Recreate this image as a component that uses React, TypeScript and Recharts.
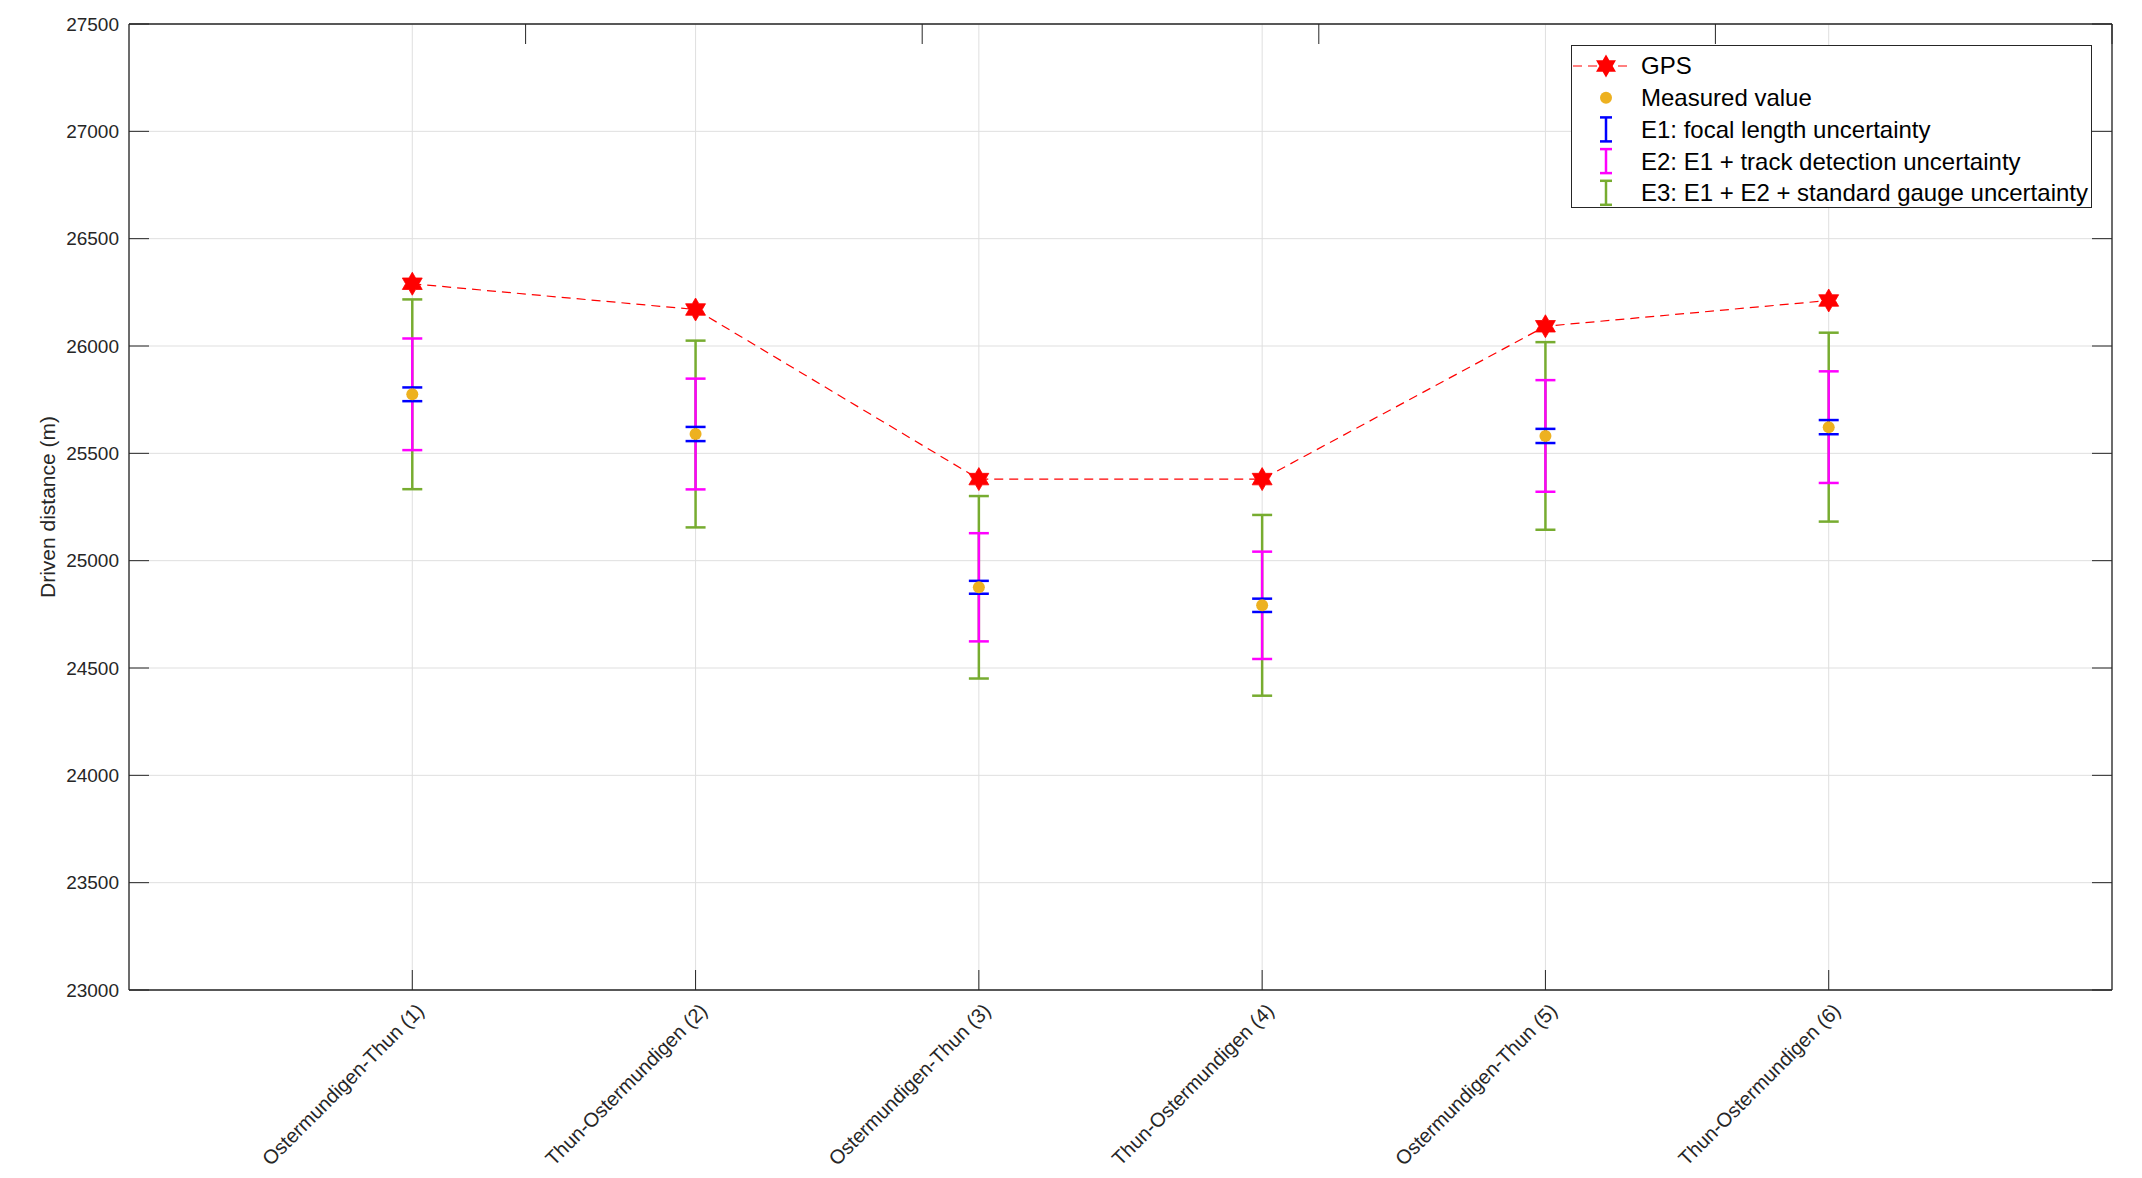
import React from "react";
import {
  CartesianGrid,
  ComposedChart,
  ErrorBar,
  Legend,
  Line,
  Scatter,
  XAxis,
  YAxis,
} from "recharts";

const categories = [
  "Ostermundigen-Thun (1)",
  "Thun-Ostermundigen (2)",
  "Ostermundigen-Thun (3)",
  "Thun-Ostermundigen (4)",
  "Ostermundigen-Thun (5)",
  "Thun-Ostermundigen (6)",
];
const gpsDistance = [26290, 26170, 25380, 25380, 26092, 26212];
const measuredDistance = [25775, 25590, 24876, 24792, 25581, 25622];
// half widths of the three uncertainty bars
const e1Focal = [32, 33, 30, 31, 33, 33];
const e2Track = [260, 258, 252, 250, 260, 260];
const e3Gauge = [442, 435, 425, 421, 437, 440];

const xTicks = [1, 2, 3, 4, 5, 6];
const yTicks = [23000, 23500, 24000, 24500, 25000, 25500, 26000, 26500, 27000, 27500];

const legendLabels = [
  "GPS",
  "Measured value",
  "E1: focal length uncertainty",
  "E2: E1 + track detection uncertainty",
  "E3: E1 + E2 + standard gauge uncertainty",
];

const rows = categories.map((name, i) => ({
  x: xTicks[i],
  name,
  gps: gpsDistance[i],
  measured: measuredDistance[i],
  e1: e1Focal[i],
  e2: e2Track[i],
  e3: e3Gauge[i],
}));

const FONT = '"Liberation Sans", Arial, Helvetica, sans-serif';
const AXIS = "#262626";
const RED = "#FF0000";
const ORANGE = "#EDB120";
const BLUE = "#0000FF";
const MAGENTA = "#FF00FF";
const GREEN = "#77AC30";
const TICK_LEN = 20;

function hexPoints(cx: number, cy: number, r: number) {
  const pts: string[] = [];
  for (let k = 0; k < 12; k++) {
    const a = ((-90 + k * 30) * Math.PI) / 180;
    const rr = k % 2 === 0 ? r : r / Math.sqrt(3);
    pts.push(`${cx + rr * Math.cos(a)},${cy + rr * Math.sin(a)}`);
  }
  return pts.join(" ");
}

const Hexagram = (props: any) => {
  const { cx, cy } = props;
  if (cx == null || cy == null) return null;
  return <polygon key={`hex-${props.index}`} points={hexPoints(cx, cy, 11.5)} fill={RED} stroke={RED} strokeWidth={0.8} />;
};

const BottomTick = (props: any) => {
  const { x, y, payload } = props;
  const label = categories[payload.value - 1] ?? "";
  const lx = x + 13;
  const ly = y + 22;
  return (
    <g>
      <line x1={x} y1={y} x2={x} y2={y - TICK_LEN} stroke={AXIS} strokeWidth={1} />
      <text
        x={lx}
        y={ly}
        transform={`rotate(-45, ${lx}, ${ly})`}
        textAnchor="end"
        fontSize={20}
        fontFamily={FONT}
        fill={AXIS}
      >
        {label}
      </text>
    </g>
  );
};

const TopTick = (props: any) => {
  const { x, y } = props;
  return <line x1={x} y1={y} x2={x} y2={y + TICK_LEN} stroke={AXIS} strokeWidth={1} />;
};

const LeftTick = (props: any) => {
  const { x, y, payload } = props;
  const ax = x + 10;
  return (
    <g>
      <line x1={ax} y1={y} x2={ax + TICK_LEN} y2={y} stroke={AXIS} strokeWidth={1} />
      <text x={x} y={y} dy="0.35em" textAnchor="end" fontSize={19} fontFamily={FONT} fill={AXIS}>
        {payload.value}
      </text>
    </g>
  );
};

const RightTick = (props: any) => {
  const { x, y } = props;
  return <line x1={x} y1={y} x2={x - TICK_LEN} y2={y} stroke={AXIS} strokeWidth={1} />;
};

const YTitle = (props: any) => {
  const vb = props.viewBox || { x: 0, y: 0, height: 0 };
  const cx = vb.x + 48;
  const cy = vb.y + vb.height / 2;
  return (
    <text
      x={cx}
      y={cy}
      transform={`rotate(-90, ${cx}, ${cy})`}
      textAnchor="middle"
      dy="0.35em"
      fontSize={21}
      fontFamily={FONT}
      fill={AXIS}
    >
      Driven distance (m)
    </text>
  );
};

function BarIcon({ cx, cy, color }: { cx: number; cy: number; color: string }) {
  return (
    <g stroke={color} strokeWidth={2.5}>
      <line x1={cx} y1={cy - 12} x2={cx} y2={cy + 12} />
      <line x1={cx - 6} y1={cy - 12} x2={cx + 6} y2={cy - 12} />
      <line x1={cx - 6} y1={cy + 12} x2={cx + 6} y2={cy + 12} />
    </g>
  );
}

const LegendBox = () => {
  const w = 521;
  const h = 163;
  const rowY = (i: number) => 21 + i * 31.7;
  const iconX = 35;
  const barColors = [BLUE, MAGENTA, GREEN];
  return (
    <svg width={w} height={h} style={{ display: "block" }}>
      <rect x={0.5} y={0.5} width={w - 1} height={h - 1} fill="#fff" stroke={AXIS} strokeWidth={1} />
      <line x1={2} y1={rowY(0)} x2={62} y2={rowY(0)} stroke={RED} strokeWidth={1.2} strokeDasharray="9 6" />
      <polygon points={hexPoints(iconX, rowY(0), 11.5)} fill={RED} />
      <circle cx={iconX} cy={rowY(1)} r={6} fill={ORANGE} />
      {barColors.map((c, i) => (
        <BarIcon key={c} cx={iconX} cy={rowY(i + 2)} color={c} />
      ))}
      {legendLabels.map((t, i) => (
        <text key={t} x={70} y={rowY(i)} dy="0.35em" fontSize={24} fontFamily={FONT} fill="#000">
          {t}
        </text>
      ))}
    </svg>
  );
};

export default function App() {
  return (
    <div style={{ position: "absolute", left: 0, top: 0, width: 2142, height: 1178, background: "#fff" }}>
      <ComposedChart width={2142} height={1178} data={rows} margin={{ top: 0, right: 0, bottom: 0, left: 0 }}>
        <CartesianGrid stroke="#dfdfdf" strokeWidth={1} />
        <XAxis
          dataKey="x"
          type="number"
          domain={[0, 7]}
          ticks={xTicks}
          interval={0}
          height={188}
          tickSize={0}
          tickMargin={0}
          tickLine={false}
          tick={<BottomTick />}
          axisLine={{ stroke: AXIS, strokeWidth: 1.3 }}
          allowDataOverflow
        />
        <XAxis
          xAxisId="top"
          orientation="top"
          type="number"
          domain={[0, 7]}
          ticks={xTicks}
          interval={0}
          height={24}
          tickSize={0}
          tickMargin={0}
          tickLine={false}
          tick={<TopTick />}
          axisLine={{ stroke: AXIS, strokeWidth: 1.3 }}
          allowDataOverflow
        />
        <YAxis
          type="number"
          domain={[23000, 27500]}
          ticks={yTicks}
          interval={0}
          width={129}
          tickSize={0}
          tickMargin={10}
          tickLine={false}
          tick={<LeftTick />}
          axisLine={{ stroke: AXIS, strokeWidth: 1.3 }}
          label={<YTitle />}
          allowDataOverflow
        />
        <YAxis
          yAxisId="right"
          orientation="right"
          type="number"
          domain={[23000, 27500]}
          ticks={yTicks}
          interval={0}
          width={30}
          tickSize={0}
          tickMargin={0}
          tickLine={false}
          tick={<RightTick />}
          axisLine={{ stroke: AXIS, strokeWidth: 1.3 }}
          allowDataOverflow
        />
        <Scatter
          dataKey="measured"
          isAnimationActive={false}
          shape={(p: any) => <circle cx={p.cx} cy={p.cy} r={6} fill={ORANGE} />}
        >
          <ErrorBar dataKey="e3" direction="y" width={10} stroke={GREEN} strokeWidth={2.5} isAnimationActive={false} />
          <ErrorBar dataKey="e2" direction="y" width={10} stroke={MAGENTA} strokeWidth={2.5} isAnimationActive={false} />
          <ErrorBar dataKey="e1" direction="y" width={10} stroke={BLUE} strokeWidth={2.5} isAnimationActive={false} />
        </Scatter>
        <Line
          dataKey="gps"
          type="linear"
          stroke={RED}
          strokeWidth={1.2}
          strokeDasharray="9 6"
          dot={<Hexagram />}
          activeDot={false}
          isAnimationActive={false}
        />
        <Legend
          layout="vertical"
          align="center"
          verticalAlign="middle"
          content={<LegendBox />}
          wrapperStyle={{ position: "absolute", left: 1571, top: 45, width: 521, height: 163 }}
        />
      </ComposedChart>
    </div>
  );
}
